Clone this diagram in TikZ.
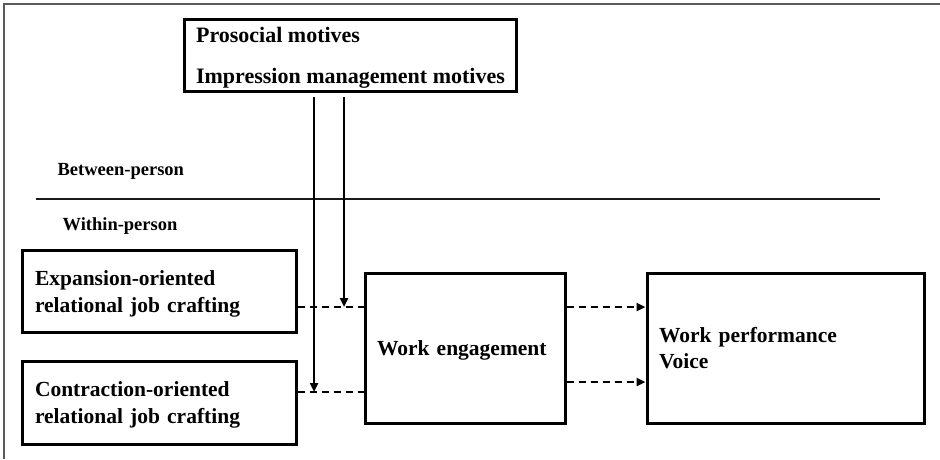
\documentclass[tikz,border=0pt]{standalone}
\usepackage{fontspec}
\setmainfont{Liberation Serif}
\usetikzlibrary{arrows.meta, positioning}
\definecolor{cframe}{HTML}{5A5A5A}
\definecolor{cline}{HTML}{1A1A1A}
\newcommand{\firstline}{\rule{0pt}{19pt}}
\tikzset{
  every picture/.style={line width=1.2pt},
  box/.style={draw=black, line width=3pt, align=left, inner xsep=12pt, font=\fontsize{21.5}{27}\selectfont\bfseries},
  level/.style={anchor=west, inner sep=0pt, font=\fontsize{18.5}{22}\selectfont\bfseries},
  dashline/.style={draw=black, dash pattern=on 7.5pt off 4.5pt, line width=2.6pt},
  dasharrow/.style={dashline, -{Triangle[length=9pt, width=8pt]}},
  modarrow/.style={draw=black, line width=2.3pt, -{Triangle[length=9pt, width=8pt]}},
}

\begin{document}
\begin{tikzpicture}[x=1pt, y=-1pt]
  \useasboundingbox (0,0) rectangle (940,459);
  % frame and level split
  \draw[cframe, line width=2pt] (940,4) -- (4,4) -- (4,459);
  \coordinate (splitL) at (36,199);
  \coordinate (splitR) at (880,199);
  \draw[cline, line width=1.6pt] (splitL) -- (splitR);
  \node[level] (between) at (57,171) {Between-person};
  \node[level] (within) at (62,226) {Within-person};

  \node[box, font=\fontsize{22}{41}\selectfont\bfseries, minimum width=331pt, minimum height=71pt] (motives) at (350.5,55.5) {\firstline Prosocial motives\\Impression management motives};
  \node[box, text width=248pt, inner xsep=13pt, minimum height=82pt] (expand) at (159,291.5) {\firstline Expansion-oriented\\relational job crafting};
  \node[box, text width=248pt, inner xsep=13pt, minimum height=83pt] (contract) at (159,402.5) {\firstline Contraction-oriented\\relational job crafting};
  \node[box, text width=176pt, minimum height=150pt] (engage) at (465,348) {\firstline Work engagement};
  \node[box, font=\fontsize{21.5}{25.5}\selectfont\bfseries, text width=253pt, minimum height=150pt] (outcome) at (785.5,348) {Work performance\\Voice};

  \draw[dashline] ([yshift=-15.5pt]expand.east) -- ([yshift=-15.5pt]expand.east -| engage.west);
  \draw[dashline] ([yshift=10.5pt]contract.east) -- ([yshift=10.5pt]contract.east -| engage.west);
  \draw[dasharrow] ([yshift=41pt]engage.east) -- ([yshift=41pt]engage.east -| outcome.west);
  \draw[dasharrow] ([yshift=-34pt]engage.east) -- ([yshift=-34pt]engage.east -| outcome.west);

  \coordinate (hitA) at (344,307);
  \coordinate (hitB) at (314,392);
  \draw[modarrow] ([yshift=-4pt]motives.south -| hitA) -- (hitA);
  \draw[modarrow] ([yshift=-4pt]motives.south -| hitB) -- (hitB);
\end{tikzpicture}
\end{document}
